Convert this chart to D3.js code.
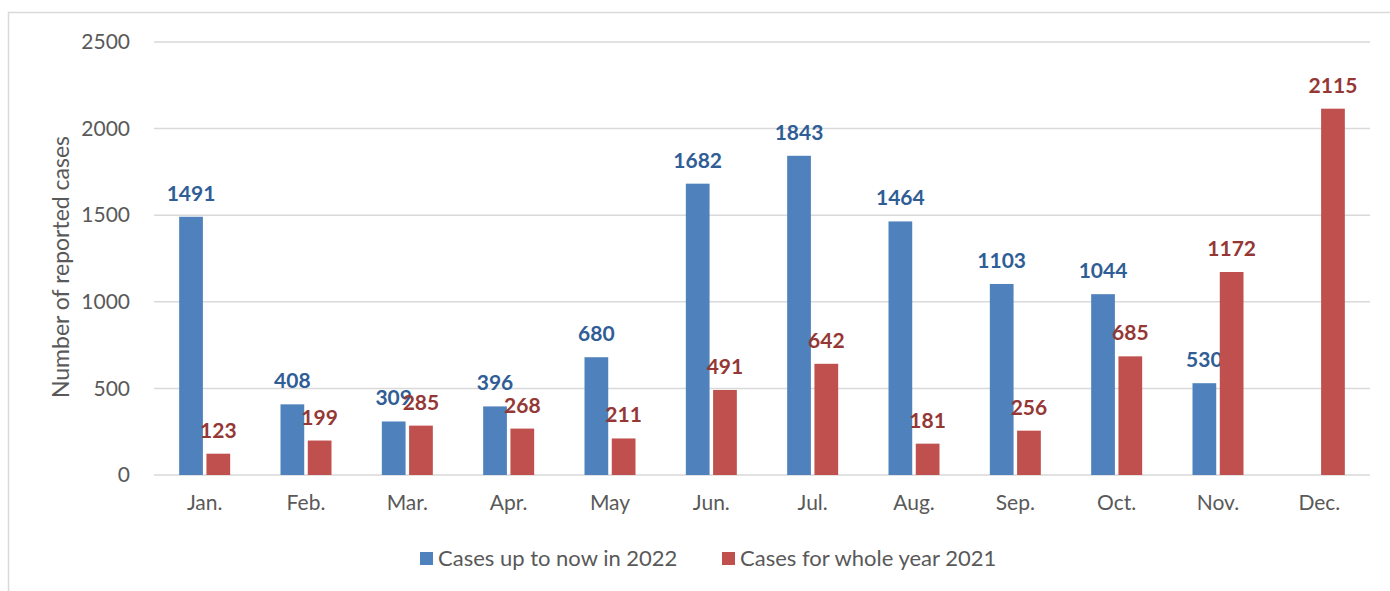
<!DOCTYPE html>
<html>
<head>
<meta charset="utf-8">
<script src="https://cdn.jsdelivr.net/npm/d3@7"></script>
<style>
  body { margin: 0; background: #fff; }
  svg { font-family: Lato, "Open Sans", sans-serif; }
</style>
</head>
<body>
<svg width="1390" height="591"></svg>
<script>
var months = ['Jan.', 'Feb.', 'Mar.', 'Apr.', 'May', 'Jun.', 'Jul.', 'Aug.', 'Sep.', 'Oct.', 'Nov.', 'Dec.'];
var cases2022 = [1491, 408, 309, 396, 680, 1682, 1843, 1464, 1103, 1044, 530, null];
var cases2021 = [123, 199, 285, 268, 211, 491, 642, 181, 256, 685, 1172, 2115];
var yTicks = [0, 500, 1000, 1500, 2000, 2500];
var seriesNames = ['Cases up to now in 2022', 'Cases for whole year 2021'];

var barColors = ['#4f81bd', '#c0504d'],
    labelColors = ['#2f5d95', '#953735'];

var svg = d3.select('svg');

// outer frame, clipped at right/bottom like the source
svg.append('rect')
   .attr('x', 8.5).attr('y', 12.5)
   .attr('width', 1400).attr('height', 600)
   .attr('fill', 'none').attr('stroke', '#d9d9d9').attr('stroke-width', 1.5);

var margin = {left: 154, right: 1370, top: 42, bottom: 475};

var xScale = d3.scaleBand().domain(months).range([margin.left, margin.right]);
var yScale = d3.scaleLinear().domain([0, 2500]).range([margin.bottom, margin.top]);

// gridlines
svg.append('g')
   .selectAll('line')
   .data(yTicks)
   .enter().append('line')
   .attr('x1', margin.left).attr('x2', margin.right)
   .attr('y1', function(d) { return yScale(d); })
   .attr('y2', function(d) { return yScale(d); })
   .attr('stroke', '#d9d9d9').attr('stroke-width', 1.5);

// y axis labels
var yAxis = d3.axisLeft(yScale).tickValues(yTicks).tickFormat(d3.format('d'))
              .tickSize(0).tickPadding(24);
var yg = svg.append('g')
   .attr('transform', 'translate(' + margin.left + ',0)')
   .call(yAxis);
yg.select('.domain').remove();
yg.selectAll('text').attr('font-size', 21).attr('fill', '#595959')
  .attr('font-family', 'Lato, sans-serif');

svg.append('text')
   .attr('transform', 'translate(69,267) rotate(-90)')
   .attr('text-anchor', 'middle')
   .attr('font-size', 23).attr('fill', '#595959')
   .text('Number of reported cases');

// x axis labels
var xAxis = d3.axisBottom(xScale).tickSize(0).tickPadding(20);
var xg = svg.append('g')
   .attr('transform', 'translate(0,' + margin.bottom + ')')
   .call(xAxis);
xg.select('.domain').remove();
xg.selectAll('text').attr('font-size', 21).attr('fill', '#595959')
  .attr('font-family', 'Lato, sans-serif');

var sub = d3.scaleBand().domain([0, 1]).range([-25.5, 25.5]).paddingInner(0.13);

var series = [cases2022, cases2021];
series.forEach(function(vals, si) {
  var data = months.map(function(m, i) { return {m: m, v: vals[i]}; })
                   .filter(function(d) { return d.v != null; });
  var g = svg.append('g');
  g.selectAll('rect')
   .data(data)
   .enter().append('rect')
   .attr('x', function(d) { return xScale(d.m) + xScale.bandwidth() / 2 + sub(si); })
   .attr('width', sub.bandwidth())
   .attr('y', function(d) { return yScale(d.v); })
   .attr('height', function(d) { return yScale(0) - yScale(d.v); })
   .attr('fill', barColors[si]);
  g.selectAll('text')
   .data(data)
   .enter().append('text')
   .attr('x', function(d) { return xScale(d.m) + xScale.bandwidth() / 2 + sub(si) + sub.bandwidth() / 2; })
   .attr('y', function(d) { return yScale(d.v) - 16; })
   .attr('text-anchor', 'middle')
   .attr('font-size', 21).attr('font-weight', 'bold')
   .attr('fill', labelColors[si])
   .text(function(d) { return d.v; });
});

// legend
var legendX = [420, 722];
var legend = svg.append('g');
seriesNames.forEach(function(name, i) {
  legend.append('rect')
        .attr('x', legendX[i]).attr('y', 552)
        .attr('width', 13).attr('height', 13)
        .attr('fill', barColors[i]);
  legend.append('text')
        .attr('x', legendX[i] + 18).attr('y', 566)
        .attr('font-size', 22).attr('fill', '#595959')
        .text(name);
});
</script>
</body>
</html>
